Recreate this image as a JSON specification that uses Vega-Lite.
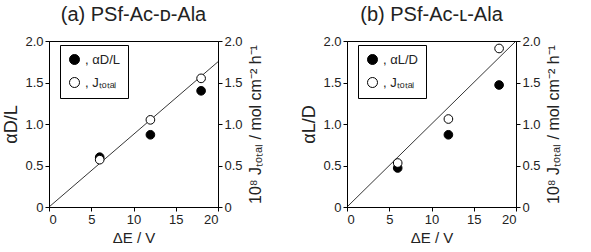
{
  "$schema": "https://vega.github.io/schema/vega-lite/v6.json",
  "padding": {"left": 2, "top": 4, "right": 0, "bottom": 2},
  "background": "white",
  "config": {
    "font": "Liberation Sans",
    "view": {"stroke": "black", "strokeWidth": 1},
    "axis": {
      "grid": false,
      "domainColor": "black",
      "tickColor": "black",
      "labelColor": "#222",
      "titleColor": "#222",
      "labelFontSize": 13,
      "titleFontSize": 15,
      "titleFontWeight": "normal",
      "tickSize": 4,
      "labelPadding": 2
    },
    "legend": {
      "orient": "none",
      "legendX": 11,
      "legendY": 4,
      "strokeColor": "black",
      "fillColor": "white",
      "padding": 8,
      "labelFontSize": 13,
      "labelColor": "#222",
      "symbolType": "circle",
      "symbolSize": 100,
      "symbolStrokeColor": "black",
      "symbolStrokeWidth": 1,
      "rowPadding": 8,
      "title": null
    },
    "title": {"fontSize": 20, "fontWeight": "normal", "color": "#222", "offset": 10}
  },
  "spacing": 36,
  "resolve": {"scale": {"fill": "independent"}, "legend": {"fill": "independent"}},
  "hconcat": [
    {
      "width": 169,
      "height": 166,
      "title": {"text": "(a) PSf-Ac-ᴅ-Ala"},
      "layer": [
        {
          "data": {"values": [
            {"E": 6, "v": 0.60, "s": ", αD/L"},
            {"E": 12, "v": 0.87, "s": ", αD/L"},
            {"E": 18, "v": 1.40, "s": ", αD/L"}
          ]},
          "mark": {"type": "point", "shape": "circle", "size": 75, "stroke": "black", "strokeWidth": 1, "opacity": 1, "fillOpacity": 1},
          "encoding": {
            "x": {"field": "E", "type": "quantitative", "scale": {"domain": [0, 20]}, "axis": {"values": [0, 5, 10, 15, 20], "title": "ΔE / V"}},
            "y": {"field": "v", "type": "quantitative", "scale": {"domain": [0, 2]}, "axis": {"values": [0, 0.5, 1, 1.5, 2], "labelExpr": "datum.value == 0 ? '0' : format(datum.value, '.1f')", "title": "αD/L", "titleFontSize": 18}},
            "fill": {"field": "s", "type": "nominal", "scale": {"domain": [", αD/L", ", Jₜₒₜₐₗ"], "range": ["black", "white"]}}
          }
        },
        {
          "layer": [
            {
              "data": {"values": [{"E": 0, "v": 0}, {"E": 20, "v": 1.75}]},
              "mark": {"type": "line", "color": "black", "strokeWidth": 0.8, "clip": true},
              "encoding": {
                "x": {"field": "E", "type": "quantitative"},
                "y": {"field": "v", "type": "quantitative", "scale": {"domain": [0, 2]}, "axis": {"orient": "right", "values": [0, 0.5, 1, 1.5, 2], "labelExpr": "datum.value == 0 ? '0' : format(datum.value, '.1f')", "title": "10⁸ Jₜₒₜₐₗ / mol cm⁻² h⁻¹", "titleAngle": -90, "titleBaseline": "top", "titlePadding": 5, "titleFontSize": 16}}
              }
            },
            {
              "data": {"values": [
                {"E": 6, "v": 0.57, "s": ", Jₜₒₜₐₗ"},
                {"E": 12, "v": 1.05, "s": ", Jₜₒₜₐₗ"},
                {"E": 18, "v": 1.55, "s": ", Jₜₒₜₐₗ"}
              ]},
              "mark": {"type": "point", "shape": "circle", "size": 75, "stroke": "black", "strokeWidth": 1, "opacity": 1, "fillOpacity": 1},
              "encoding": {
                "x": {"field": "E", "type": "quantitative"},
                "y": {"field": "v", "type": "quantitative"},
                "fill": {"field": "s", "type": "nominal"}
              }
            }
          ]
        }
      ],
      "resolve": {"scale": {"y": "independent"}}
    },
    {
      "width": 169,
      "height": 166,
      "title": {"text": "(b) PSf-Ac-ʟ-Ala"},
      "layer": [
        {
          "data": {"values": [
            {"E": 6, "v": 0.47, "s": ", αL/D"},
            {"E": 12, "v": 0.87, "s": ", αL/D"},
            {"E": 18, "v": 1.47, "s": ", αL/D"}
          ]},
          "mark": {"type": "point", "shape": "circle", "size": 75, "stroke": "black", "strokeWidth": 1, "opacity": 1, "fillOpacity": 1},
          "encoding": {
            "x": {"field": "E", "type": "quantitative", "scale": {"domain": [0, 20]}, "axis": {"values": [0, 5, 10, 15, 20], "title": "ΔE / V"}},
            "y": {"field": "v", "type": "quantitative", "scale": {"domain": [0, 2]}, "axis": {"values": [0, 0.5, 1, 1.5, 2], "labelExpr": "datum.value == 0 ? '0' : format(datum.value, '.1f')", "title": "αL/D", "titleFontSize": 18}},
            "fill": {"field": "s", "type": "nominal", "scale": {"domain": [", αL/D", ", Jₜₒₜₐₗ"], "range": ["black", "white"]}}
          }
        },
        {
          "layer": [
            {
              "data": {"values": [{"E": 0, "v": 0}, {"E": 20, "v": 2.0}]},
              "mark": {"type": "line", "color": "black", "strokeWidth": 0.8, "clip": true},
              "encoding": {
                "x": {"field": "E", "type": "quantitative"},
                "y": {"field": "v", "type": "quantitative", "scale": {"domain": [0, 2]}, "axis": {"orient": "right", "values": [0, 0.5, 1, 1.5, 2], "labelExpr": "datum.value == 0 ? '0' : format(datum.value, '.1f')", "title": "10⁸ Jₜₒₜₐₗ / mol cm⁻² h⁻¹", "titleAngle": -90, "titleBaseline": "top", "titlePadding": 5, "titleFontSize": 16}}
              }
            },
            {
              "data": {"values": [
                {"E": 6, "v": 0.53, "s": ", Jₜₒₜₐₗ"},
                {"E": 12, "v": 1.06, "s": ", Jₜₒₜₐₗ"},
                {"E": 18, "v": 1.91, "s": ", Jₜₒₜₐₗ"}
              ]},
              "mark": {"type": "point", "shape": "circle", "size": 75, "stroke": "black", "strokeWidth": 1, "opacity": 1, "fillOpacity": 1},
              "encoding": {
                "x": {"field": "E", "type": "quantitative"},
                "y": {"field": "v", "type": "quantitative"},
                "fill": {"field": "s", "type": "nominal"}
              }
            }
          ]
        }
      ],
      "resolve": {"scale": {"y": "independent"}}
    }
  ]
}
